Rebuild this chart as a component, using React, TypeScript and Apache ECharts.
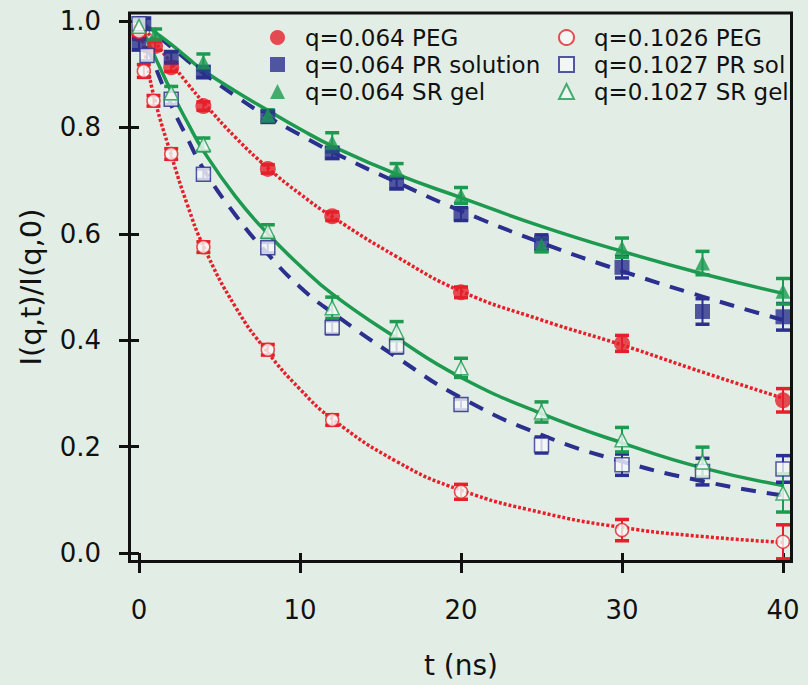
import React, { useEffect, useRef } from "react";
import * as echarts from "echarts";

const RED = "#e5202b";
const NAVY = "#2b2f8d";
const GREEN = "#1d9a50";
const BG = "#e2eee5";
const OPEN_FILL = "#f6f9f7";
const FONT = "DejaVu Sans";

// Tick labels
const xTicks = [0, 10, 20, 30, 40];
const yTicks = [0, 0.2, 0.4, 0.6, 0.8, 1.0];

// q=0.064 PEG (filled circle)
const peg064T = [0, 1, 2, 4, 8, 12, 20, 30, 40];
const peg064Y = [0.975, 0.953, 0.913, 0.84, 0.722, 0.633, 0.49, 0.394, 0.287];
const peg064E = [0.008, 0.008, 0.008, 0.008, 0.008, 0.008, 0.01, 0.015, 0.022];

// q=0.064 PR solution (filled square)
const pr064T = [0, 0.3, 2, 4, 8, 12, 16, 20, 25, 30, 35, 40];
const pr064Y = [0.956, 0.995, 0.932, 0.904, 0.82, 0.752, 0.695, 0.637, 0.583, 0.537, 0.454, 0.444];
const pr064E = [0.01, 0.01, 0.01, 0.01, 0.01, 0.01, 0.01, 0.012, 0.015, 0.02, 0.024, 0.025];

// q=0.064 SR gel (filled triangle)
const sr064T = [0, 1, 4, 8, 12, 16, 20, 25, 30, 35, 40];
const sr064Y = [0.99, 0.975, 0.923, 0.823, 0.772, 0.72, 0.672, 0.578, 0.574, 0.545, 0.492];
const sr064E = [0.01, 0.01, 0.015, 0.01, 0.018, 0.012, 0.015, 0.012, 0.018, 0.022, 0.024];

// q=0.1026 PEG (open circle)
const peg1026T = [0, 0.3, 0.9, 2, 4, 8, 12, 20, 30, 40];
const peg1026Y = [0.98, 0.906, 0.85, 0.75, 0.575, 0.382, 0.25, 0.115, 0.043, 0.021];
const peg1026E = [0.01, 0.012, 0.01, 0.01, 0.01, 0.01, 0.01, 0.014, 0.02, 0.032];

// q=0.1027 PR sol (open square)
const pr1027T = [0, 0.5, 2, 4, 8, 12, 16, 20, 25, 30, 35, 40];
const pr1027Y = [0.995, 0.935, 0.853, 0.712, 0.574, 0.424, 0.388, 0.279, 0.203, 0.166, 0.153, 0.158];
const pr1027E = [0.01, 0.01, 0.01, 0.01, 0.01, 0.012, 0.012, 0.01, 0.015, 0.02, 0.025, 0.025];

// q=0.1027 SR gel (open triangle)
const sr1027T = [0, 2, 4, 8, 12, 16, 20, 25, 30, 35, 40];
const sr1027Y = [0.99, 0.865, 0.768, 0.605, 0.461, 0.417, 0.348, 0.265, 0.213, 0.171, 0.113];
const sr1027E = [0.01, 0.012, 0.012, 0.012, 0.02, 0.018, 0.018, 0.019, 0.023, 0.028, 0.036];

// Fit curves
const fitT = [0, 0.5, 1, 2, 3, 4, 6, 8, 10, 12, 16, 20, 25, 30, 35, 40];
const fitPEG064 = [1.0, 0.98, 0.96, 0.921, 0.883, 0.847, 0.781, 0.724, 0.675, 0.632, 0.557, 0.492, 0.438, 0.391, 0.34, 0.291];
const fitPR064 = [1.0, 0.988, 0.976, 0.951, 0.926, 0.902, 0.859, 0.82, 0.786, 0.754, 0.697, 0.643, 0.583, 0.53, 0.482, 0.438];
const fitSR064 = [1.0, 0.99, 0.979, 0.956, 0.931, 0.907, 0.868, 0.832, 0.797, 0.765, 0.712, 0.668, 0.614, 0.567, 0.525, 0.488];
const fitPEG1026 = [1.0, 0.92, 0.85, 0.748, 0.655, 0.577, 0.462, 0.377, 0.308, 0.252, 0.172, 0.118, 0.076, 0.048, 0.031, 0.02];
const fitPR1027 = [1.0, 0.955, 0.915, 0.842, 0.78, 0.722, 0.635, 0.562, 0.5, 0.452, 0.368, 0.292, 0.222, 0.172, 0.135, 0.108];
const fitSR1027 = [1.0, 0.965, 0.932, 0.868, 0.81, 0.756, 0.67, 0.6, 0.54, 0.487, 0.404, 0.33, 0.262, 0.207, 0.16, 0.127];

const names = [
  "q=0.064 PEG",
  "q=0.064 PR solution",
  "q=0.064 SR gel",
  "q=0.1026 PEG",
  "q=0.1027 PR sol",
  "q=0.1027 SR gel",
];

function pts(t: number[], y: number[]) {
  return t.map((x, i) => [x, y[i]]);
}

function scatter(name: string, t: number[], y: number[], symbol: string, color: string, open: boolean, size: number) {
  return {
    type: "scatter",
    name,
    data: pts(t, y),
    symbol,
    symbolSize: size,
    symbolKeepAspect: true,
    clip: false,
    z: 5,
    itemStyle: open
      ? { color: OPEN_FILL, borderColor: color, borderWidth: 1.5 }
      : { color, borderColor: color, borderWidth: 0 },
  };
}

function errors(name: string, t: number[], y: number[], e: number[], color: string) {
  return {
    type: "custom",
    name: name + " err",
    data: t.map((x, i) => [x, y[i], e[i]]),
    encode: { x: 0, y: 1 },
    clip: false,
    silent: true,
    z: 4,
    renderItem: (params: any, api: any) => {
      const x = api.value(0);
      const yv = api.value(1);
      const ev = api.value(2);
      const p1 = api.coord([x, yv + ev]);
      const p2 = api.coord([x, yv - ev]);
      const w = 7;
      return {
        type: "group",
        children: [
          { type: "line", shape: { x1: p1[0], y1: p1[1], x2: p2[0], y2: p2[1] }, style: { stroke: color, lineWidth: 2 } },
          { type: "line", shape: { x1: p1[0] - w, y1: p1[1], x2: p1[0] + w, y2: p1[1] }, style: { stroke: color, lineWidth: 3.5 } },
          { type: "line", shape: { x1: p2[0] - w, y1: p2[1], x2: p2[0] + w, y2: p2[1] }, style: { stroke: color, lineWidth: 3.5 } },
        ],
      };
    },
  };
}

function fit(name: string, y: number[], color: string, type: any, width: number) {
  return {
    type: "line",
    name: name + " fit",
    data: pts(fitT, y),
    smooth: 0.5,
    symbol: "none",
    showSymbol: false,
    silent: true,
    z: 3,
    lineStyle: { color, width, type },
  };
}

const legendBase = {
  orient: "vertical",
  top: 21,
  itemWidth: 15,
  itemHeight: 15,
  itemGap: 4,
  selectedMode: false,
  textStyle: { fontFamily: FONT, fontSize: 23, color: "#111", lineHeight: 23, padding: [0, 0, 0, 15] },
};

export default function App() {
  const ref = useRef<HTMLDivElement>(null);
  useEffect(() => {
    if (!ref.current) return;
    const chart = echarts.init(ref.current, null, { renderer: "svg" });
    const option: any = {
      animation: false,
      backgroundColor: BG,
      textStyle: { fontFamily: FONT },
      grid: { left: 139, right: 25, top: 21, bottom: 132, containLabel: false },
      legend: [
        { ...legendBase, left: 265, data: names.slice(0, 3) },
        { ...legendBase, left: 553, data: names.slice(3) },
      ],
      xAxis: {
        type: "value",
        min: xTicks[0],
        max: xTicks[xTicks.length - 1],
        interval: 10,
        offset: 12,
        name: "t (ns)",
        nameLocation: "middle",
        nameGap: 86,
        nameTextStyle: { fontFamily: FONT, fontSize: 28, color: "#111" },
        axisLine: { show: false },
        axisTick: { show: true, length: 20, lineStyle: { color: "#111", width: 3 } },
        axisLabel: { margin: 32, fontFamily: FONT, fontSize: 26, color: "#111" },
        splitLine: { show: false },
      },
      yAxis: {
        type: "value",
        min: yTicks[0],
        max: yTicks[yTicks.length - 1],
        interval: 0.2,
        offset: 10,
        name: "I(q,t)/I(q,0)",
        nameLocation: "middle",
        nameGap: 84,
        nameTextStyle: { fontFamily: FONT, fontSize: 29, color: "#111" },
        axisLine: { show: false },
        axisTick: { show: true, length: 20, lineStyle: { color: "#111", width: 3 } },
        axisLabel: { margin: 28, fontFamily: FONT, fontSize: 26, color: "#111", formatter: (v: number) => v.toFixed(1) },
        splitLine: { show: false },
      },
      graphic: [
        {
          type: "rect",
          z: 100,
          silent: true,
          shape: { x: 129.5, y: 13, width: 662, height: 548.5 },
          style: { fill: "none", stroke: "#111", lineWidth: 3 },
        },
      ],
      series: [
        fit(names[0], fitPEG064, RED, [3, 2], 3.5),
        fit(names[1], fitPR064, NAVY, [15, 11], 4),
        fit(names[2], fitSR064, GREEN, "solid", 3.5),
        fit(names[3], fitPEG1026, RED, [3, 2], 3.5),
        fit(names[4], fitPR1027, NAVY, [15, 11], 4),
        fit(names[5], fitSR1027, GREEN, "solid", 3.5),
        errors(names[0], peg064T, peg064Y, peg064E, RED),
        errors(names[1], pr064T, pr064Y, pr064E, NAVY),
        errors(names[2], sr064T, sr064Y, sr064E, GREEN),
        errors(names[3], peg1026T, peg1026Y, peg1026E, RED),
        errors(names[4], pr1027T, pr1027Y, pr1027E, NAVY),
        errors(names[5], sr1027T, sr1027Y, sr1027E, GREEN),
        scatter(names[0], peg064T, peg064Y, "circle", RED, false, 16),
        scatter(names[1], pr064T, pr064Y, "rect", NAVY, false, 15),
        scatter(names[2], sr064T, sr064Y, "triangle", GREEN, false, 15),
        scatter(names[3], peg1026T, peg1026Y, "circle", RED, true, 13),
        scatter(names[4], pr1027T, pr1027Y, "rect", NAVY, true, 14),
        scatter(names[5], sr1027T, sr1027Y, "triangle", GREEN, true, 14),
      ],
    };
    chart.setOption(option);
    return () => chart.dispose();
  }, []);
  return (
    <div
      ref={ref}
      style={{ position: "absolute", left: 0, top: 0, width: 808, height: 685, background: BG }}
    />
  );
}
